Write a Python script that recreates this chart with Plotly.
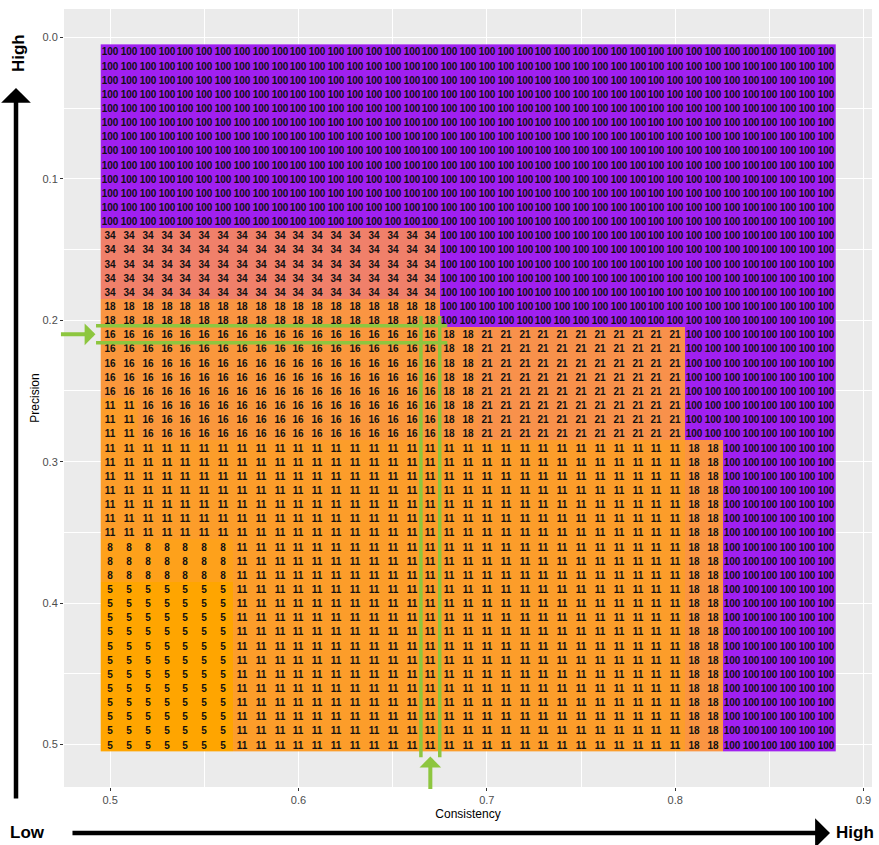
import numpy as np
import plotly.graph_objects as go

# Grid coordinates
consistency = [round(0.50 + 0.01 * i, 2) for i in range(39)]   # 0.50 .. 0.88
precision = [round(0.01 + 0.01 * j, 2) for j in range(50)]     # 0.01 .. 0.50

# Cell values, row blocks top to bottom: (number of rows, [(value, run length), ...])
row_blocks = [
    (13, [(100, 39)]),
    (5, [(34, 18), (100, 21)]),
    (2, [(18, 18), (100, 21)]),
    (5, [(16, 18), (18, 2), (21, 11), (100, 8)]),
    (3, [(11, 2), (16, 16), (18, 2), (21, 11), (100, 8)]),
    (7, [(11, 31), (18, 2), (100, 6)]),
    (3, [(8, 7), (11, 24), (18, 2), (100, 6)]),
    (12, [(5, 7), (11, 24), (18, 2), (100, 6)]),
]

x_ticks = [0.5, 0.6, 0.7, 0.8, 0.9]
y_ticks = [0.0, 0.1, 0.2, 0.3, 0.4, 0.5]

# Highlighted row / column
sel_precision = 0.21
sel_consistency = 0.67

z = []
for n, segs in row_blocks:
    row = []
    for v, cnt in segs:
        row += [v] * cnt
    for _ in range(n):
        z.append(list(row))


# --- orange -> purple gradient interpolated in CIELAB ---
def _hex_rgb(h):
    h = h.lstrip("#")
    return np.array([int(h[i:i + 2], 16) for i in (0, 2, 4)]) / 255.0


M = np.array([[0.4124564, 0.3575761, 0.1804375],
              [0.2126729, 0.7151522, 0.0721750],
              [0.0193339, 0.1191920, 0.9503041]])
WHITE = np.array([0.95047, 1.0, 1.08883])


def rgb2lab(c):
    lin = np.where(c <= 0.04045, c / 12.92, ((c + 0.055) / 1.055) ** 2.4)
    xyz = M @ lin / WHITE
    f = np.where(xyz > (6 / 29) ** 3, np.cbrt(xyz), xyz / (3 * (6 / 29) ** 2) + 4 / 29)
    return np.array([116 * f[1] - 16, 500 * (f[0] - f[1]), 200 * (f[1] - f[2])])


def lab2rgb(lab):
    L, a, b = lab
    fy = (L + 16) / 116
    fx = fy + a / 500
    fz = fy - b / 200
    f = np.array([fx, fy, fz])
    xyz = np.where(f > 6 / 29, f ** 3, 3 * (6 / 29) ** 2 * (f - 4 / 29)) * WHITE
    lin = np.linalg.solve(M, xyz)
    lin = np.clip(lin, 0, 1)
    c = np.where(lin <= 0.0031308, 12.92 * lin, 1.055 * lin ** (1 / 2.4) - 0.055)
    c = np.clip(c, 0, 1)
    return "rgb(%d,%d,%d)" % tuple(np.round(c * 255).astype(int))


lab_lo = rgb2lab(_hex_rgb("#FFA500"))
lab_hi = rgb2lab(_hex_rgb("#A020F0"))
colorscale = [[t, lab2rgb(lab_lo + (lab_hi - lab_lo) * t)] for t in np.linspace(0, 1, 41)]

FONT = "Liberation Sans, Arial, sans-serif"
GREEN = "#8DC63F"

fig = go.Figure(
    go.Heatmap(
        x=consistency,
        y=precision,
        z=z,
        zmin=5,
        zmax=100,
        colorscale=colorscale,
        showscale=False,
        texttemplate="%{z}",
        textfont=dict(family=FONT, size=10, color="#111111", weight="bold"),
        hoverinfo="skip",
    )
)

# Green guide lines around the selected row and column
half = 0.005
for yy in (sel_precision - half - 0.001, sel_precision + half + 0.001):
    fig.add_shape(type="line", xref="x", yref="y", x0=0.4925, x1=0.679, y0=yy, y1=yy,
                  line=dict(color=GREEN, width=3.5))
for xx in (sel_consistency - half, sel_consistency + half):
    fig.add_shape(type="line", xref="x", yref="y", x0=xx, x1=xx, y0=0.197, y1=0.509,
                  line=dict(color=GREEN, width=3.5))

label_font = dict(family=FONT, size=17, color="black")
annotations = [
    # green pointers
    dict(x=0.4922, y=sel_precision, xref="x", yref="y", ax=-36, ay=0, text="",
         showarrow=True, arrowhead=1, arrowsize=0.9, arrowwidth=4, arrowcolor=GREEN, standoff=0),
    dict(x=sel_consistency, y=0.5085, xref="x", yref="y", ax=0, ay=34, text="",
         showarrow=True, arrowhead=1, arrowsize=0.9, arrowwidth=4, arrowcolor=GREEN, standoff=0),
    # black direction arrows
    dict(x=-0.0594, y=0.8985, xref="paper", yref="paper", ax=0, ay=712, text="",
         showarrow=True, arrowhead=1, arrowsize=1.1, arrowwidth=4.5, arrowcolor="black", standoff=0),
    dict(x=0.948, y=-0.0591, xref="paper", yref="paper", ax=-759, ay=0, text="",
         showarrow=True, arrowhead=1, arrowsize=1.1, arrowwidth=4.5, arrowcolor="black", standoff=0),
    dict(x=-0.0569, y=0.9434, xref="paper", yref="paper", text="<b>High</b>", textangle=-90,
         xanchor="center", yanchor="middle", showarrow=False, font=label_font),
    dict(x=-0.0446, y=-0.0591, xref="paper", yref="paper", text="<b>Low</b>",
         xanchor="center", yanchor="middle", showarrow=False, font=label_font),
    dict(x=0.979, y=-0.0591, xref="paper", yref="paper", text="<b>High</b>",
         xanchor="center", yanchor="middle", showarrow=False, font=label_font),
]

axis_common = dict(
    showgrid=True,
    gridcolor="white",
    gridwidth=1.2,
    zeroline=False,
    ticks="outside",
    ticklen=3,
    tickcolor="#333333",
    tickwidth=1,
    tickfont=dict(family=FONT, size=11, color="#4D4D4D"),
    showline=False,
    tickformat=".1f",
)

fig.update_layout(
    width=879,
    height=845,
    margin=dict(l=64, r=7, t=9, b=58),
    paper_bgcolor="white",
    plot_bgcolor="#EBEBEB",
    showlegend=False,
    annotations=annotations,
    xaxis=dict(
        **axis_common,
        range=[0.4755, 0.9045],
        tickvals=x_ticks,
        minor=dict(tickvals=[0.55, 0.65, 0.75, 0.85], showgrid=True, gridcolor="white",
                   gridwidth=0.6, ticks=""),
        title=dict(text="Consistency", font=dict(family=FONT, size=12, color="black"), standoff=4),
    ),
    yaxis=dict(
        **axis_common,
        range=[0.53, -0.02],
        tickvals=y_ticks,
        minor=dict(tickvals=[0.05, 0.15, 0.25, 0.35, 0.45], showgrid=True, gridcolor="white",
                   gridwidth=0.6, ticks=""),
        title=dict(text="Precision", font=dict(family=FONT, size=12, color="black"), standoff=0),
    ),
)

fig.write_html("out.html")
